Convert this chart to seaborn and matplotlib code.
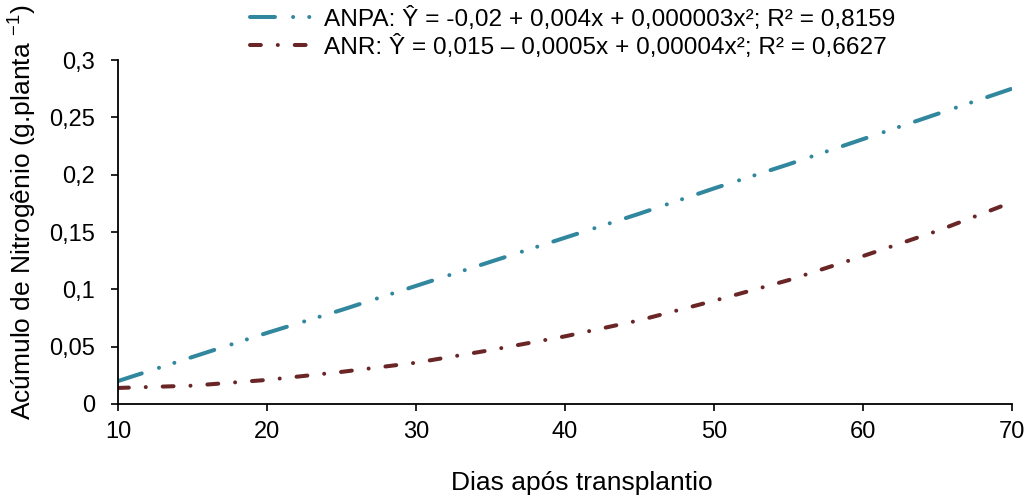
# Acúmulo de nitrogênio (ANPA e ANR) em função dos dias após o transplantio

import pandas as pd
import seaborn as sns
import matplotlib.pyplot as plt

# valores
dias = [10, 15, 20, 25, 30, 35, 40, 45, 50, 55, 60, 65, 70]
anpa = [0.020, 0.041, 0.062, 0.082, 0.103, 0.124, 0.145, 0.166, 0.188, 0.209, 0.231, 0.253, 0.275]
anr = [0.014, 0.016, 0.021, 0.028, 0.036, 0.047, 0.059, 0.073, 0.090, 0.108, 0.129, 0.151, 0.176]

rotulo_anpa = 'ANPA: Ŷ = -0,02 + 0,004x + 0,000003x²; R² = 0,8159'
rotulo_anr = 'ANR: Ŷ = 0,015 – 0,0005x + 0,00004x²; R² = 0,6627'

yticks = [0, 0.05, 0.1, 0.15, 0.2, 0.25, 0.3]
ytick_labels = ['0', '0,05', '0,1', '0,15', '0,2', '0,25', '0,3']
xticks = [10, 20, 30, 40, 50, 60, 70]

df = pd.DataFrame({'dias': dias, 'ANPA': anpa, 'ANR': anr})

sns.set_style('ticks')
plt.rcParams['font.family'] = ['Liberation Sans', 'DejaVu Sans']
plt.rcParams['mathtext.fontset'] = 'custom'
plt.rcParams['mathtext.rm'] = 'Liberation Sans'
plt.rcParams['lines.dash_capstyle'] = 'round'
plt.rcParams['lines.solid_capstyle'] = 'round'
plt.rcParams['text.color'] = 'black'
plt.rcParams['xtick.labelsize'] = 17
plt.rcParams['ytick.labelsize'] = 17

fig = plt.figure(figsize=(10.32, 5.0), dpi=100)
ax = fig.add_axes([0.1143, 0.192, 0.8663, 0.688])

sns.lineplot(data=df, x='dias', y='ANPA', color='#31879E', lw=2.9, label=rotulo_anpa, ax=ax)
sns.lineplot(data=df, x='dias', y='ANR', color='#6A2626', lw=2.9, label=rotulo_anr, ax=ax)

# traço-ponto-ponto e traço-ponto
ax.lines[0].set_dashes((6.2, 4.5, 0.01, 4.0, 0.01, 4.2))
ax.lines[1].set_dashes((2.7, 4.2, 0.01, 4.2))

ax.set_xlim(10, 70)
ax.set_ylim(0, 0.3)
ax.set_xticks(xticks)
ax.set_yticks(yticks)
ax.set_yticklabels(ytick_labels)
ax.tick_params(axis='x', labelsize=17, length=5, width=1.2, pad=7.5, color='black', labelcolor='black')
ax.tick_params(axis='y', labelsize=17, length=5, width=1.2, pad=11.5, color='black', labelcolor='black')
for s in ['left', 'bottom']:
    ax.spines[s].set_linewidth(1.3)
    ax.spines[s].set_color('black')
sns.despine(ax=ax)

ax.set_xlabel('Dias após transplantio', fontsize=19, color='black')
ax.xaxis.set_label_coords(0.519, -0.195)
ax.set_ylabel('Acúmulo de Nitrogênio (g.planta $^{-1}$)', fontsize=19, color='black')
ax.yaxis.set_label_coords(-0.0895, 0.558)

ax.get_legend().remove()
fig.legend(handles=ax.lines[:2], labels=[rotulo_anpa, rotulo_anr],
           loc='upper left', bbox_to_anchor=(0.2214, 1.03), frameon=False,
           fontsize=17.6, handlelength=2.5, handletextpad=0.5, labelspacing=0.15,
           labelcolor='black')

fig.savefig('out.png', dpi=100)
